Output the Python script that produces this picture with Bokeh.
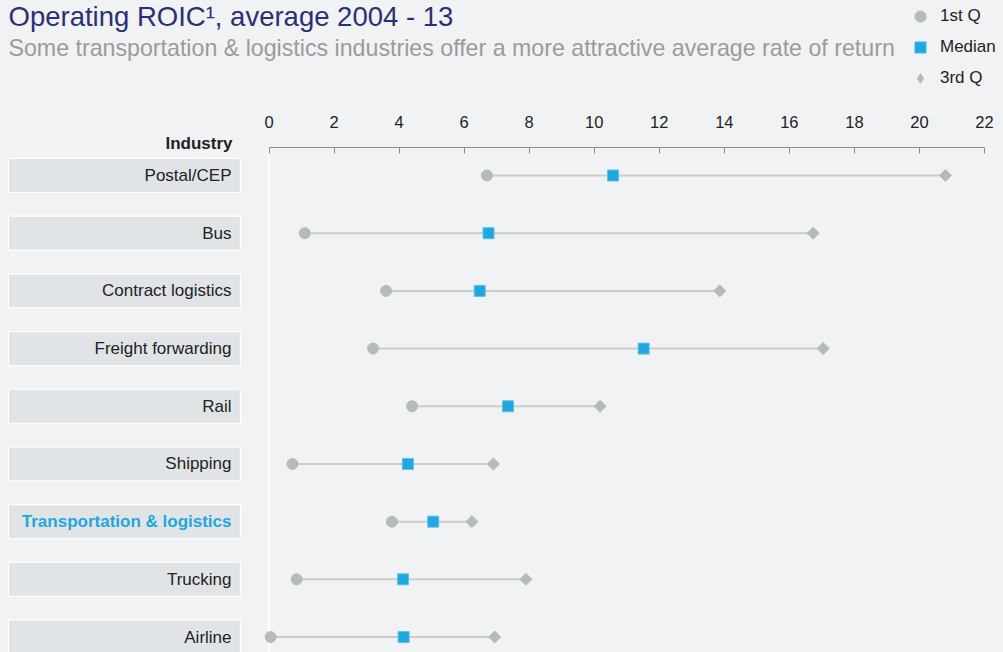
from bokeh.plotting import figure
from bokeh.models import (Range1d, ColumnDataSource, Label, Legend, LegendItem,
                          FixedTicker, LinearAxis)
from bokeh.core.properties import value
from bokeh.embed import file_html
from bokeh.resources import INLINE

# ---- data ----
categories = ["Postal/CEP", "Bus", "Contract logistics", "Freight forwarding", "Rail",
              "Shipping", "Transportation & logistics", "Trucking", "Airline"]
q1 = [6.7, 1.1, 3.6, 3.2, 4.4, 0.72, 3.78, 0.85, 0.05]
median = [10.58, 6.75, 6.48, 11.52, 7.35, 4.27, 5.05, 4.12, 4.14]
q3 = [20.8, 16.73, 13.86, 17.04, 10.18, 6.9, 6.24, 7.9, 6.94]
highlight = "Transportation & logistics"
x_ticks = list(range(0, 23, 2))
legend_labels = ["1st Q", "Median", "3rd Q"]

title_text = "Operating ROIC\u00b9, average 2004 - 13"
subtitle_text = "Some transportation & logistics industries offer a more attractive average rate of return"

# ---- layout constants (pixels) ----
W, H = 1003, 652
AXIS_PX = 147.0
X0_PX, X22_PX = 268.5, 984.0
PX_PER_UNIT = (X22_PX - X0_PX) / 22.0
ROW0_PX, ROW_PITCH = 175.0, 57.69

def px_to_x(px):
    return (px - X0_PX) / PX_PER_UNIT

def px_to_y(py):
    return (py - ROW0_PX) / ROW_PITCH

FONT = "Liberation Sans"
BG = "#f1f2f4"
GREY_MARK = "#b4bbba"
BLUE = "#1fa7e0"
LINE_C = "#c8cdcd"

ys = list(range(len(categories)))
src = ColumnDataSource(dict(
    cat=categories, y=ys, q1=q1, med=median, q3=q3,
    lx=[px_to_x(124)] * len(categories),
    tx=[px_to_x(231)] * len(categories),
    color=[BLUE if c == highlight else "#222222" for c in categories],
    style=["bold" if c == highlight else "normal" for c in categories],
))

x_range = Range1d(px_to_x(0), px_to_x(W))
y_range = Range1d(px_to_y(H), px_to_y(0))   # flipped: first category at top

p = figure(width=W, height=H, x_range=x_range, y_range=y_range,
           x_axis_location=None, y_axis_location=None,
           output_backend="svg", toolbar_location=None,
           min_border_left=0, min_border_right=0, min_border_bottom=0,
           min_border_top=0)
p.background_fill_color = BG
p.border_fill_color = BG
p.outline_line_color = None
p.grid.visible = False
p.styles = {"background-color": BG}

# value axis on top of the dot plot
ax = LinearAxis(fixed_location=px_to_y(AXIS_PX))
ax.bounds = (0, 22)
ax.ticker = FixedTicker(ticks=x_ticks)
ax.axis_line_color = "#8c8c8c"
ax.major_tick_line_color = "#8c8c8c"
ax.major_tick_in = 6
ax.major_tick_out = 0
ax.minor_tick_line_color = None
ax.major_label_text_font = FONT
ax.major_label_text_font_size = "16.5px"
ax.major_label_text_color = "#222222"
ax.major_label_standoff = 20
p.add_layout(ax, "above")

# white zero line below the value axis
p.segment(x0=[0], x1=[0], y0=[px_to_y(AXIS_PX)], y1=[px_to_y(H)],
          line_color="white", line_width=1.5)

# label boxes
p.rect(x="lx", y="y", width=232, height=34, width_units="screen", height_units="screen",
       source=src, fill_color="#e1e4e6", line_color="white", line_width=1.2)
p.text(x="tx", y="y", text="cat", source=src, text_align="right", text_baseline="middle",
       text_font=value(FONT), text_font_size="17px", text_color="color",
       text_font_style="style")

# range lines and markers
p.segment(x0="q1", x1="q3", y0="y", y1="y", source=src, line_color=LINE_C, line_width=2)
r1 = p.scatter(x="q1", y="y", source=src, marker="circle", size=11,
               fill_color=GREY_MARK, line_color=GREY_MARK)
# legend key for the 3rd quartile: a diamond (legend keys are never rotated);
# drawn at zero size in the plot, the visible marks are the rotated squares below
r3_key = p.scatter(x="q3", y="y", source=src, marker="diamond", size=0,
                   fill_color=GREY_MARK, line_color=GREY_MARK, line_width=0)
r3 = p.scatter(x="q3", y="y", source=src, marker="square", angle=0.785398, size=8.5,
               fill_color=GREY_MARK, line_color=GREY_MARK)
r2 = p.scatter(x="med", y="y", source=src, marker="square", size=11,
               fill_color=BLUE, line_color="#5fc0ea", line_width=1)

# titles
p.add_layout(Label(x=8, y=H - 16, x_units="screen", y_units="screen", text=title_text,
                   text_font=FONT, text_font_size="27.5px", text_color="#2b3075",
                   text_baseline="alphabetic"))
p.add_layout(Label(x=8, y=H - 47, x_units="screen", y_units="screen", text=subtitle_text,
                   text_font=FONT, text_font_size="23.2px", text_color="#9b9b9b",
                   text_baseline="alphabetic"))
p.add_layout(Label(x=232, y=H - 143, x_units="screen", y_units="screen", text="Industry",
                   text_font=FONT, text_font_size="17px", text_font_style="bold",
                   text_color="#222222", text_align="right", text_baseline="alphabetic"))

legend = Legend(items=[LegendItem(label=legend_labels[0], renderers=[r1]),
                       LegendItem(label=legend_labels[1], renderers=[r2]),
                       LegendItem(label=legend_labels[2], renderers=[r3_key])],
                location=(906, H - 92), orientation="vertical",
                glyph_width=28, glyph_height=28, spacing=3, padding=0, margin=0,
                label_standoff=6, label_text_font=FONT, label_text_font_size="17px",
                label_text_color="#222222", background_fill_alpha=0,
                border_line_color=None)
p.add_layout(legend, "center")

open("out.html", "w").write(file_html(p, INLINE))
